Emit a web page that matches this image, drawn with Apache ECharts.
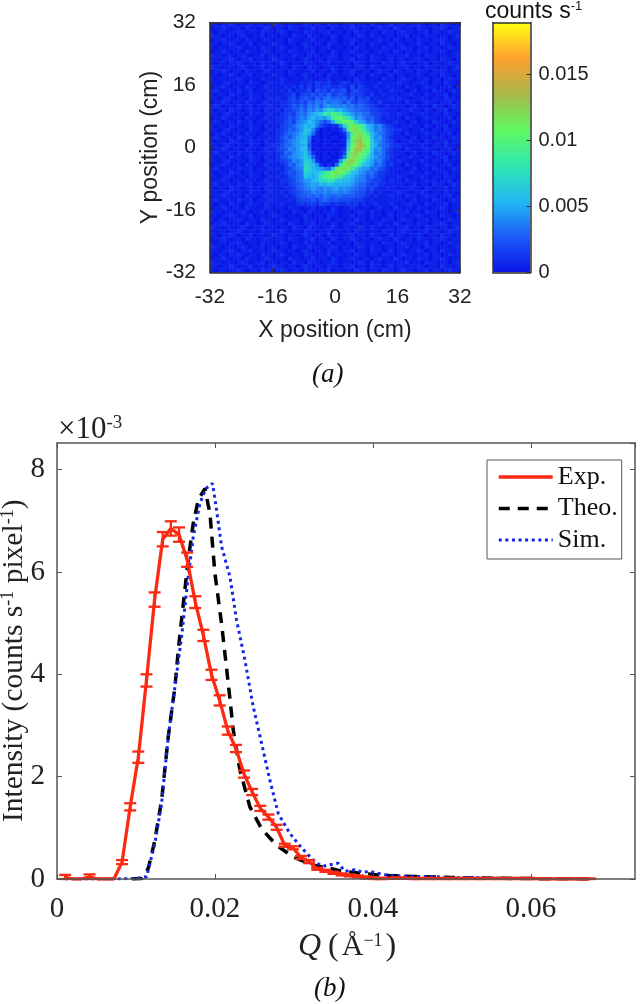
<!DOCTYPE html>
<html><head><meta charset="utf-8">
<style>html,body{margin:0;padding:0;background:#fff}#c{width:640px;height:1004px}</style>
<script src="https://cdn.jsdelivr.net/npm/echarts@6/dist/echarts.min.js"></script>
</head><body><div id="c"></div>
<script>
// Detector image, 64 x 64: each char is a base-36 level, 1 level = 0.0005 counts/s.
const bgA='1101121011201101211011012101102110112011021101201101121011021101';
const bgB='0112101102110121011021101120110210112101101211021011021101121011';
const bgC='1011011210110211012101102110112011010211011021101211011201101211';
const bgD='2110110121011201101102110211011210110121021101101120110211011012';
const lA='1101210110211012'; const rA='2110112101102110';
const lB='0112101102110121'; const rB='1021101211011201';
const lC='1210110211201112'; const rC='1101201102110121';
const lD='1011021101211021'; const rD='0112110210112011';
const detectorRows = [
bgA,bgB,bgC,bgD,bgB,bgA,bgC,bgB,bgD,bgA,bgC,bgD,bgB,bgA,bgC,
lA+'11211112'+'12132231'+'12321221'+'11121111'+rA,
lB+'11121213'+'13132332'+'23214132'+'11211211'+rB,
lC+'11213122'+'24153425'+'34513432'+'21121121'+rC,
lD+'11122413'+'43535463'+'45424332'+'13112111'+rD,
lA+'12113424'+'54364675'+'65635243'+'41211121'+rA,
lB+'11223435'+'36576867'+'76474354'+'32131111'+rB,
lC+'11223546'+'47685898'+'87867565'+'43211211'+rC,
lD+'12133457'+'58798bed'+'ab987665'+'53322111'+rD,
lA+'11234367'+'69abdhfk'+'ihdb9786'+'64332211'+rA,
lB+'12235468'+'7ab9a9ci'+'kmigc897'+'56431211'+rB,
lC+'12245378'+'9ba8646a'+'hjlmjea9'+'67432112'+rC,
lD+'11345689'+'bab74212'+'27ejmnjg'+'ba785321'+rD,
lA+'12346579'+'cb830101'+'127jnoli'+'ca786432'+rA,
lB+'1235678a'+'ca610110'+'0129jnok'+'hb976431'+rB,
lC+'1246579a'+'b7110101'+'1019lnpm'+'kc896421'+rC,
lD+'1235789b'+'c6010110'+'011bkprm'+'md986431'+rD,
lA+'2246689a'+'b5100101'+'101cmnsp'+'lda76532'+rA,
lB+'1345879b'+'c6010010'+'012emqsn'+'kc896421'+rB,
lC+'1236589a'+'c8200101'+'014iopnk'+'ib786321'+rC,
lD+'1245789a'+'da510110'+'027jnolj'+'fb976421'+rD,
lA+'12345879'+'dc920101'+'19joqmjg'+'ca785321'+rA,
lB+'11236589'+'edb82021'+'6hmonkhc'+'b9675231'+rB,
lC+'12134678'+'fdba976c'+'lnomiea9'+'96754211'+rC,
lD+'11235467'+'ecbcehjm'+'omkhcb98'+'67533211'+rD,
lA+'12124567'+'cbacgjkl'+'kiecb987'+'56432111'+rA,
lB+'11223467'+'99bcefhg'+'dcbba877'+'54332121'+rB,
lC+'11213456'+'89a9bacb'+'abaa9766'+'43422111'+rC,
lD+'11122356'+'78987989'+'a8987655'+'34211211'+rD,
lA+'11212345'+'66877878'+'87876544'+'23121111'+rA,
lB+'11121245'+'56565765'+'66555443'+'21211121'+rB,
lC+'11112134'+'44535654'+'54443332'+'12111111'+rC,
lD+'11211123'+'23324332'+'32232312'+'11211121'+rD,
bgB,bgD,bgA,bgC,bgB,bgD,bgC,bgA,bgB,bgC,bgD,bgA,bgC,bgB,bgD,bgA,bgC
];
const heatLevelStep = 0.0005;
const colorbarMax = 0.0189;

// Panel (b)
const expQ = [0.00103,0.00206,0.00309,0.00412,0.00515,0.00618,0.00721,0.00824,0.00927,0.0103,0.01133,0.01236,0.01339,0.01442,0.01545,0.01648,0.01751,0.01854,0.01957,0.0206,0.02163,0.02266,0.02369,0.02472,0.02575,0.02678,0.02781,0.02884,0.02987,0.0309,0.03193,0.03296,0.03399,0.03502,0.03605,0.03708,0.03811,0.03914,0.04017,0.0412,0.04326,0.04532,0.04738,0.04944,0.0515,0.05356,0.05562,0.05768,0.05974,0.0618,0.06386,0.06592,0.06747];
const expI = [0.03,0,0,0.04,0,0,0,0.33,1.41,2.38,3.88,5.46,6.64,6.85,6.73,6.24,5.41,4.76,3.99,3.49,2.90,2.55,2.05,1.70,1.38,1.21,1.01,0.66,0.61,0.42,0.34,0.20,0.16,0.12,0.09,0.07,0.05,0.03,0.01,0.01,0.02,0.01,0.01,0.01,0.01,0.01,0.01,0.01,0.01,0,0,0,0];
const expErr = [0.05,0,0,0.05,0,0,0,0.04,0.07,0.11,0.12,0.14,0.14,0.14,0.14,0.14,0.115,0.11,0.10,0.10,0.08,0.07,0.07,0.06,0.05,0.05,0.05,0.03,0.03,0.03,0.03,0.02,0.02,0.02,0.02,0.02,0.02,0.02,0.02,0.01,0.01,0.01,0.01,0.01,0.01,0.01,0.01,0.01,0.01,0.01,0.01,0.01,0.01];
const theoQ = [0.0095,0.0108,0.01156,0.0124,0.01325,0.01409,0.01494,0.01536,0.01599,0.01662,0.01726,0.01789,0.01873,0.01937,0.02,0.02084,0.02169,0.02232,0.02316,0.02443,0.02591,0.02781,0.02992,0.03244,0.0345,0.0358,0.038,0.04,0.042,0.045,0.05,0.055,0.06,0.065,0.0675];
const theoI = [0,0.01,0.21,0.76,1.54,2.78,3.76,4.47,5.37,6.24,6.95,7.41,7.63,7.14,5.97,4.99,3.82,2.91,2.13,1.41,0.98,0.66,0.43,0.27,0.21,0.16,0.12,0.09,0.07,0.05,0.03,0.015,0.008,0.003,0.002];
const simQ = [0.001,0.00755,0.01008,0.01135,0.0124,0.01325,0.01409,0.01494,0.01578,0.01662,0.01726,0.0181,0.01886,0.0197,0.02021,0.02084,0.0219,0.02274,0.0238,0.02485,0.02591,0.02696,0.02802,0.02949,0.03076,0.0318,0.03287,0.03371,0.03456,0.03561,0.03646,0.03772,0.03877,0.03962,0.0413,0.043,0.0451,0.04763,0.04975,0.05186,0.05608,0.06029,0.06747];
const simI = [0,0,0.013,0.046,0.70,1.48,2.78,3.76,4.74,5.91,6.69,7.34,7.63,7.73,7.21,6.50,5.91,5.06,4.28,3.37,2.65,1.93,1.28,0.89,0.65,0.47,0.31,0.25,0.28,0.31,0.15,0.18,0.13,0.15,0.085,0.065,0.05,0.05,0.02,0.03,0.013,0.01,0];

const sans = '"Liberation Sans",Arial,sans-serif';
const serif = '"Liberation Serif","Times New Roman",serif';
const frameA = '#333';
const frameB = '#555';
const txt = '#222';
const cmap = ['#0a14e6','#1c5cf8','#22b8f4','#30e8b0','#60f860','#a8b848','#ffa030','#ffff10'];

const heatCells = [];
detectorRows.forEach((row,r)=>{ row.split('').forEach((ch,c)=>{ heatCells.push([c,r,parseInt(ch,36)*heatLevelStep]); }); });
const idxCells = detectorRows.map((_,i)=>i);

function valAxis(grid,pos,min,max,interval,labels,color,font,size,extra){
  return Object.assign({type:'value',gridIndex:grid,position:pos,min:min,max:max,interval:interval,z:10,
    axisLine:{show:true,onZero:false,lineStyle:{color:color,width:1.5}},
    axisTick:{show:true,inside:true,length:4,lineStyle:{color:color,width:1}},
    splitLine:{show:false},
    axisLabel:{show:labels,color:txt,fontFamily:font,fontSize:size,margin:labels?14:0,hideOverlap:false,showMinLabel:true,showMaxLabel:true}
  },extra||{});
}
const tickB = {show:true,inside:true,length:5,lineStyle:{color:frameB,width:1}};

const chart = echarts.init(document.getElementById('c'),null,{renderer:'canvas'});
chart.setOption({
  animation:false,
  backgroundColor:'#fff',
  grid:[
    {left:210,top:22.5,width:250,height:250},
    {left:493,top:22.5,width:37.5,height:250},
    {left:57,top:443,width:578,height:436}
  ],
  xAxis:[
    {type:'category',gridIndex:0,data:idxCells,show:false},
    valAxis(0,'bottom',-32,32,16,true,frameA,sans,21,{name:'X position (cm)',nameLocation:'middle',nameGap:47,nameTextStyle:{color:txt,fontFamily:sans,fontSize:23}}),
    valAxis(0,'top',-32,32,16,false,frameA,sans,19),
    valAxis(1,'bottom',0,1,1,false,frameA,sans,19,{axisTick:{show:false}}),
    valAxis(1,'top',0,1,1,false,frameA,sans,19,{axisTick:{show:false}}),
    valAxis(2,'bottom',0,0.0732,0.02,true,frameB,serif,29,{axisLabel:{show:true,color:txt,fontFamily:serif,fontSize:29,margin:16,formatter:v=>v===0?'0':String(v),showMaxLabel:false},axisTick:tickB}),
    valAxis(2,'top',0,0.0732,0.02,false,frameB,serif,24,{axisTick:tickB,axisLabel:{show:false,showMaxLabel:false}})
  ],
  yAxis:[
    {type:'category',gridIndex:0,data:idxCells,show:false,inverse:true},
    valAxis(0,'left',-32,32,16,true,frameA,sans,21,{name:'Y position (cm)',nameLocation:'middle',nameGap:48,nameTextStyle:{color:txt,fontFamily:sans,fontSize:23}}),
    valAxis(0,'right',-32,32,16,false,frameA,sans,19),
    valAxis(1,'left',0,colorbarMax,0.005,false,frameA,sans,19,{axisTick:{show:false}}),
    valAxis(1,'right',0,colorbarMax,0.005,true,frameA,sans,20,{axisLabel:{show:true,color:txt,fontFamily:sans,fontSize:20,margin:8,showMaxLabel:false,formatter:v=>String(v)}}),
    valAxis(2,'left',0,8.52,2,true,frameB,serif,29,{axisLabel:{show:true,color:txt,fontFamily:serif,fontSize:29,margin:12,showMaxLabel:false},axisTick:tickB}),
    valAxis(2,'right',0,8.52,2,false,frameB,serif,24,{axisTick:tickB,axisLabel:{show:false,showMaxLabel:false}})
  ],
  visualMap:{type:'continuous',seriesIndex:0,min:0,max:colorbarMax,calculable:false,realtime:false,show:true,
    left:493,top:22.5,itemWidth:37.5,itemHeight:250,padding:0,text:null,textStyle:{fontSize:0,color:'rgba(0,0,0,0)'},
    inRange:{color:cmap},z:1},
  legend:{show:true,orient:'vertical',left:487,top:460,width:135,
    data:[{name:'Exp.',lineStyle:{width:3.3}},{name:'Theo.',lineStyle:{width:3.5}},{name:'Sim.',lineStyle:{width:3}}],
    selectedMode:false,itemStyle:{opacity:0},
    backgroundColor:'#fff',borderColor:'#555',borderWidth:1,padding:[4,4,6,10],itemGap:5.5,itemWidth:54,itemHeight:26,
    textStyle:{fontFamily:serif,fontSize:26,color:'#111',padding:[0,0,0,0]}},
  series:[
    {type:'heatmap',xAxisIndex:0,yAxisIndex:0,data:heatCells,progressive:0,silent:true,emphasis:{disabled:true}},
    {name:'Theo.',type:'line',xAxisIndex:5,yAxisIndex:5,symbol:'none',silent:true,z:3,
      data:theoQ.map((q,i)=>[q,theoI[i]]),lineStyle:{color:'#000',width:3.5,type:[11,8]},itemStyle:{color:'#000'}},
    {name:'Sim.',type:'line',xAxisIndex:5,yAxisIndex:5,symbol:'none',silent:true,z:4,
      data:simQ.map((q,i)=>[q,simI[i]]),lineStyle:{color:'#1426e0',width:3,type:[3,3.6]},itemStyle:{color:'#1426e0'}},
    {name:'Exp.',type:'line',xAxisIndex:5,yAxisIndex:5,symbol:'none',silent:true,z:5,
      data:expQ.map((q,i)=>[q,expI[i]]),lineStyle:{color:'#fb2a12',width:3.3},itemStyle:{color:'#fb2a12'}},
    {type:'custom',xAxisIndex:5,yAxisIndex:5,silent:true,z:6,
      data:expQ.map((q,i)=>[q,expI[i],expErr[i]]),
      encode:{x:0,y:1},
      renderItem:(params,api)=>{
        const q=api.value(0),v=api.value(1),e=api.value(2);
        if(!(e>0))return null;
        const lo=api.coord([q,Math.max(v-e,0)]),hi=api.coord([q,v+e]);
        const w=6;
        const st={stroke:'#fb2a12',lineWidth:2.3,fill:'none'};
        return {type:'group',children:[
          {type:'line',shape:{x1:lo[0],y1:lo[1],x2:hi[0],y2:hi[1]},style:st},
          {type:'line',shape:{x1:lo[0]-w,y1:lo[1],x2:lo[0]+w,y2:lo[1]},style:st},
          {type:'line',shape:{x1:hi[0]-w,y1:hi[1],x2:hi[0]+w,y2:hi[1]},style:st}
        ]};
      }}
  ],
  graphic:[
    {type:'text',left:485,top:0,style:{text:'counts s{s|-1}',fontFamily:sans,fontSize:23,fill:'#111',
      rich:{s:{fontFamily:sans,fontSize:13,fill:'#111',padding:[0,0,10,0]}}}},
    {type:'text',left:312,top:361,style:{text:'(a)',fontFamily:serif,fontStyle:'italic',fontSize:27,fill:'#111'}},
    {type:'text',left:314,top:975,style:{text:'(b)',fontFamily:serif,fontStyle:'italic',fontSize:27,fill:'#111'}},
    {type:'text',left:58,top:414,style:{text:'\u00d710{s|-3}',fontFamily:serif,fontSize:31,fill:'#222',
      rich:{s:{fontFamily:serif,fontSize:19,fill:'#222',padding:[0,0,13,0]}}}},
    {type:'text',left:298,top:931,style:{text:'{i|Q}{g|(}\u00c5{s|\u22121}{g|)}',fontFamily:serif,fontSize:30,fill:'#222',
      rich:{i:{fontFamily:serif,fontStyle:'italic',fontSize:32,fill:'#222',padding:[0,4,0,0]},g:{fontFamily:serif,fontSize:32,fill:'#222',padding:[0,3,0,3]},s:{fontFamily:serif,fontSize:18,fill:'#222',padding:[0,0,12,0]}}}},
    {type:'text',rotation:Math.PI/2,x:-1,y:822,style:{text:'Intensity (counts s{s|-1} pixel{s|-1})',fontFamily:serif,fontSize:29.5,fill:'#222',
      rich:{s:{fontFamily:serif,fontSize:18,fill:'#222',padding:[0,0,13,0]}}}}
  ]
});
</script></body></html>
